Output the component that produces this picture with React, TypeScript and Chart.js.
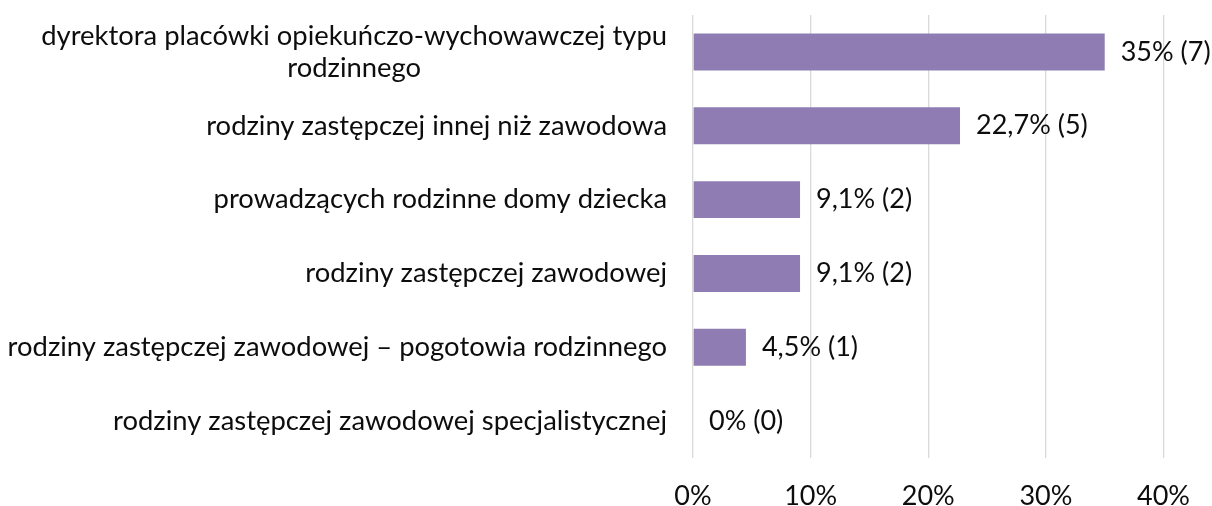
import React, { useEffect, useRef } from "react";
import { Chart, registerables } from "chart.js";

Chart.register(...registerables);

const categories: (string | string[])[] = [
  ["dyrektora placówki opiekuńczo-wychowawczej typu", "rodzinnego"],
  "rodziny zastępczej innej niż zawodowa",
  "prowadzących rodzinne domy dziecka",
  "rodziny zastępczej zawodowej",
  "rodziny zastępczej zawodowej – pogotowia rodzinnego",
  "rodziny zastępczej zawodowej specjalistycznej",
];
const values = [35, 22.7, 9.1, 9.1, 4.5, 0];
const valueLabels = ["35% (7)", "22,7% (5)", "9,1% (2)", "9,1% (2)", "4,5% (1)", "0% (0)"];
const xTicks = [0, 10, 20, 30, 40];

const FONT = "Lato";
const TEXT = "#0d0d0d";

const labelPlugin = {
  id: "customLabels",
  afterDatasetsDraw(chart: any) {
    const ctx = chart.ctx;
    const meta = chart.getDatasetMeta(0);
    ctx.save();
    ctx.font = `27px ${FONT}`;
    ctx.fillStyle = TEXT;
    ctx.textBaseline = "middle";
    ctx.textAlign = "left";
    meta.data.forEach((bar: any, i: number) => {
      ctx.fillText(valueLabels[i], bar.x + 16, bar.y);
    });
    ctx.font = `27.4px ${FONT}`;
    const yScale = chart.scales.y;
    const right = chart.chartArea.left - 26;
    const lineH = 32;
    categories.forEach((c, i) => {
      const y = yScale.getPixelForValue(i);
      const lines = Array.isArray(c) ? c : [c];
      const maxW = Math.max(...lines.map((l) => ctx.measureText(l).width));
      ctx.textAlign = "center";
      lines.forEach((l, j) => {
        ctx.fillText(l, right - maxW / 2, y + (j - (lines.length - 1) / 2) * lineH);
      });
    });
    ctx.restore();
  },
};

export default function App() {
  const ref = useRef<HTMLCanvasElement>(null);
  useEffect(() => {
    document.body.style.margin = "0";
    const chart = new Chart(ref.current!, {
      type: "bar",
      data: {
        labels: categories as any,
        datasets: [
          {
            data: values,
            backgroundColor: "#8e7cb3",
            categoryPercentage: 1,
            barPercentage: 0.5,
          },
        ],
      },
      options: {
        indexAxis: "y",
        animation: false,
        responsive: false,
        maintainAspectRatio: false,
        layout: { padding: { top: 15, right: 47, left: 693, bottom: 0 } },
        plugins: { legend: { display: false }, tooltip: { enabled: false } },
        scales: {
          x: {
            min: 0,
            max: 40,
            afterBuildTicks: (scale: any) => {
              scale.ticks = xTicks.map((v) => ({ value: v }));
            },
            afterFit: (scale: any) => {
              scale.height = 48;
            },
            ticks: {
              padding: 22,
              font: { family: FONT, size: 27 },
              color: TEXT,
              callback: (v: any) => `${v}%`,
            },
            grid: { color: "#d9d9d9", lineWidth: 1.3, drawTicks: false },
            border: { display: false },
          },
          y: {
            display: false,
          },
        },
      },
      plugins: [labelPlugin],
    });
    return () => chart.destroy();
  }, []);
  return (
    <div style={{ width: 1212, height: 506 }}>
      <canvas ref={ref} width={1212} height={506} style={{ display: "block" }} />
    </div>
  );
}
